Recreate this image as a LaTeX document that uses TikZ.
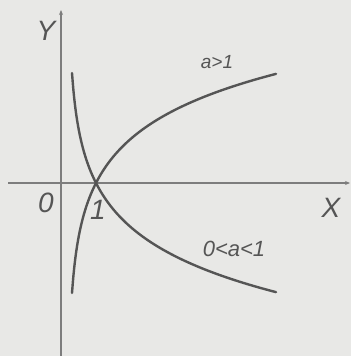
\documentclass[tikz,border=0pt]{standalone}
\usepackage{fontspec}
\setmainfont{Liberation Sans}
\usetikzlibrary{arrows.meta}
\definecolor{bg}{RGB}{232,232,230}
\definecolor{ink}{RGB}{85,85,85}
\definecolor{axisc}{RGB}{125,125,125}
\tikzset{
  axisline/.style={draw=axisc, line width=1.3pt, -{Stealth[length=5pt,width=4pt]}},
  curve/.style={draw=ink, line width=2.4pt, line cap=round},
  lab/.style={text=ink, font=\fontsize{28}{28}\selectfont\itshape, inner sep=0pt},
  midlab/.style={text=ink, font=\fontsize{22}{22}\selectfont\itshape, inner sep=0pt},
  smalllab/.style={text=ink, font=\fontsize{19}{19}\selectfont\itshape, inner sep=0pt}
}
\begin{document}
\begin{tikzpicture}[x=1pt,y=-1pt]
  \fill[bg] (0,0) rectangle (351,356);
  \useasboundingbox (0,0) rectangle (351,356);
  % axes
  \coordinate (xs) at (8,183);
  \coordinate (xe) at (350,183);
  \coordinate (ys) at (61,356);
  \coordinate (ye) at (61,10);
  \draw[axisline] (xs) -- (xe);
  \draw[axisline] (ys) -- (ye);
  % curves
  \draw[curve] plot[domain=72:276, samples=150, smooth]
    (\x, {183 - 54*ln((\x-68.5)/27.5)});
  \draw[curve] plot[domain=72:276, samples=150, smooth]
    (\x, {183 + 54*ln((\x-68.5)/27.5)});
  % labels
  \node[lab] (Y) at (46,31) {Y};
  \node[lab] (X) at (331,208) {X};
  \node[lab] (O) at (46,203) {0};
  \node[lab] (one) at (98,210) {1};
  \node[smalllab] (agt) at (217,62) {a>1};
  \node[midlab] (alt) at (234,249) {0<a<1};
\end{tikzpicture}
\end{document}
